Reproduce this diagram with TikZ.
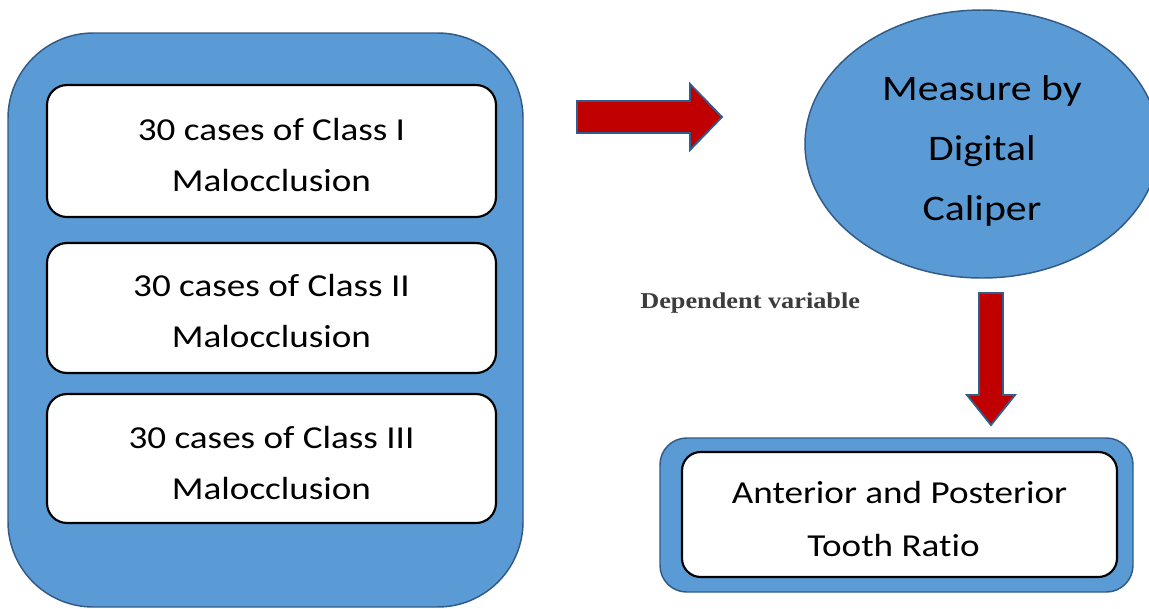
\documentclass[tikz,border=0pt]{standalone}
\usepackage{fontspec}
\setmainfont{Carlito}[FakeStretch=1.16, Ligatures=NoCommon]
\newfontfamily\depfont{Liberation Serif}[FakeStretch=1.16]
\definecolor{boxblue}{RGB}{91,155,213}
\definecolor{boxedge}{RGB}{49,90,135}
\definecolor{arrowred}{RGB}{192,0,0}
\definecolor{arrowedge}{RGB}{50,92,140}
\definecolor{deptext}{RGB}{60,60,60}
\tikzset{
  bluebox/.style={fill=boxblue, draw=boxedge, line width=1.1pt},
  whitebox/.style={fill=white, draw=black, line width=1.6pt, rounded corners=15pt},
  blockarrow/.style={fill=arrowred, draw=arrowedge, line width=1.4pt, line join=miter},
  boxtext/.style={align=center, inner sep=0pt, font=\fontsize{24pt}{38.25pt}\selectfont},
}
\begin{document}
\begin{tikzpicture}[x=0.75pt, y=-0.75pt]
\useasboundingbox (0,0) rectangle (1149,608);
\clip (0,0) rectangle (1149,608);
% left group
\draw[bluebox, rounded corners=64pt] (8,33) rectangle (523,607);
\draw[whitebox] (47,85) rectangle (496,217);
\draw[whitebox] (47,243) rectangle (496,373);
\draw[whitebox] (47,394) rectangle (496,523);
\node[boxtext] (c1) at (271.5,154.5) {30 cases of Class I\\Malocclusion};
\node[boxtext] (c2) at (271.5,310.5) {30 cases of Class II\\Malocclusion};
\node[boxtext] (c3) at (271.5,462.5) {30 cases of Class III\\Malocclusion};
% right arrow
\draw[blockarrow] (577,101) -- (690,101) -- (690,84) -- (722,117) -- (690,150) -- (690,133) -- (577,133) -- cycle;
% ellipse
\draw[bluebox] (982,144) ellipse [x radius=177, y radius=134];
\node[align=center, inner sep=0pt, font=\fontsize{27pt}{45pt}\selectfont] (m) at (982,151) {Measure by\\Digital\\Caliper};
% dependent variable
\node[anchor=base west, inner sep=0pt, text=deptext, font=\depfont\bfseries\fontsize{17pt}{20pt}\selectfont] (dv) at (640,308) {Dependent variable};
% down arrow
\draw[blockarrow] (979,293) -- (1003,293) -- (1003,395) -- (1015,395) -- (991,425) -- (967,395) -- (979,395) -- cycle;
% bottom right
\draw[bluebox, rounded corners=20pt] (660,438) rectangle (1133,592);
\draw[whitebox, rounded corners=14pt] (682,452) rectangle (1117,577);
\node[align=center, inner sep=0pt, font=\fontsize{24pt}{39.75pt}\selectfont] (r) at (899.5,519) {Anterior and Posterior\\Tooth Ratio\hspace*{9pt}};
\end{tikzpicture}
\end{document}
